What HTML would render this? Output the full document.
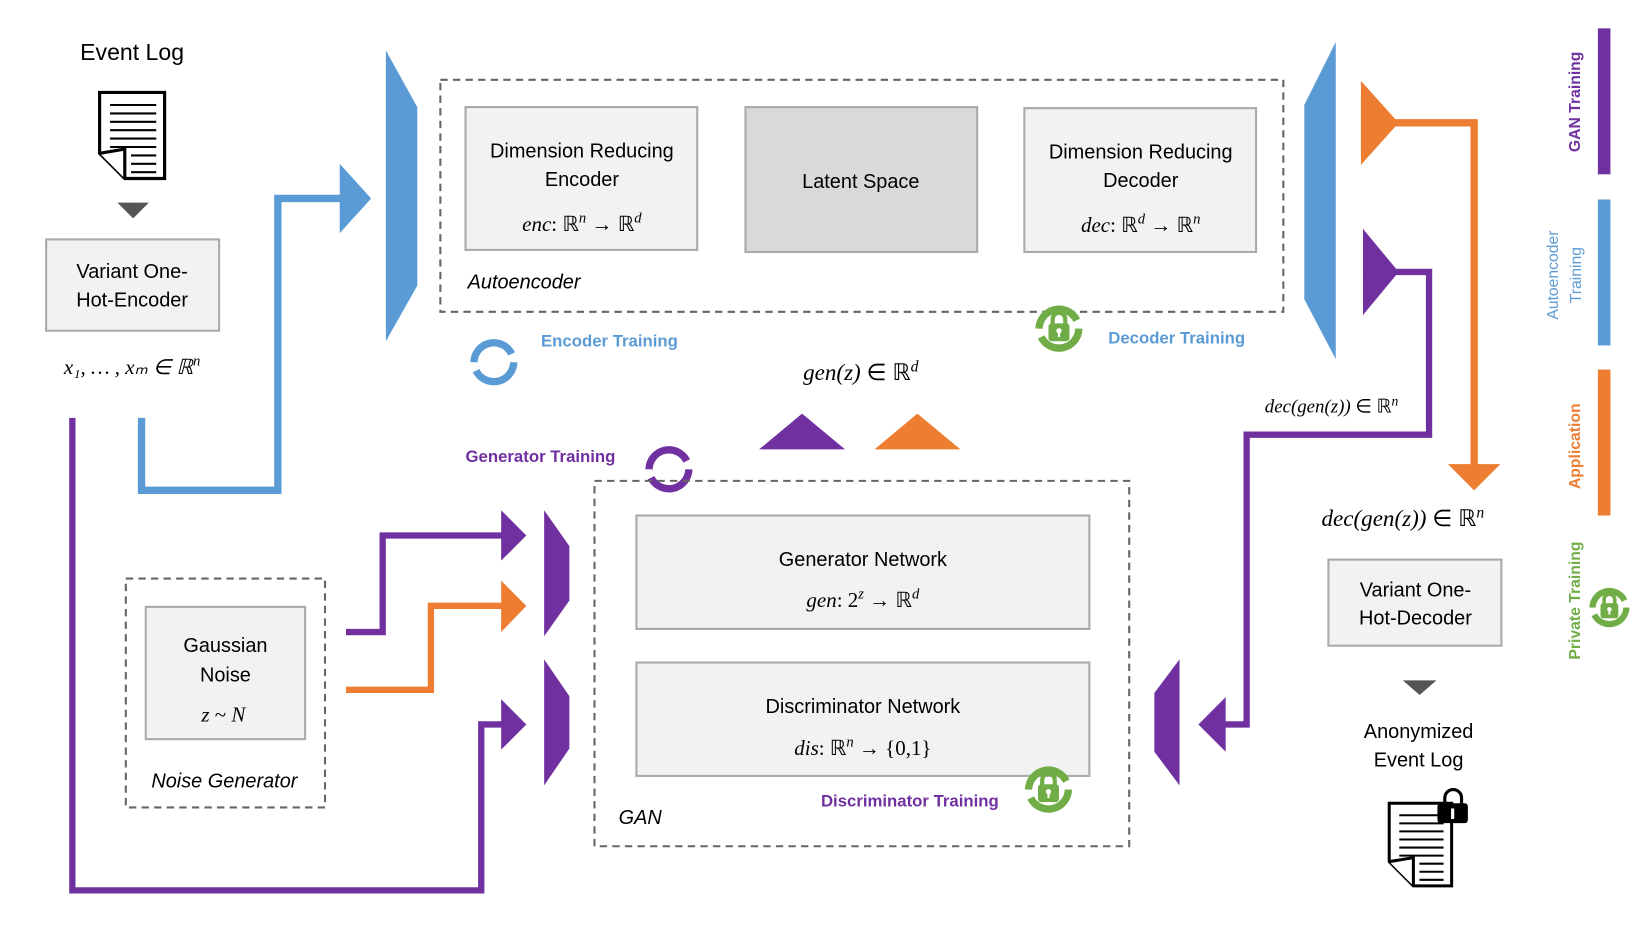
<!DOCTYPE html>
<html><head><meta charset="utf-8"><style>
html,body{margin:0;padding:0;background:#fff;}
svg{display:block;}
text{font-family:"Liberation Sans",sans-serif;}
.m{font-family:"Liberation Serif",serif;font-style:italic;}
</style></head><body>
<svg width="1644" height="925" viewBox="0 0 1568 881" preserveAspectRatio="none" xmlns="http://www.w3.org/2000/svg">
<defs>
<g id="cyc">
  <path d="M-19,2 A19,19 0 0 1 17,-6" fill="none" stroke-width="7"/>
  <path d="M19,2 A19,19 0 0 1 -17,10" fill="none" stroke-width="7"/>
</g>
<g id="doc">
  <path d="M0,0 H62 V82 H24 L0,58 Z" fill="#fff" stroke="#000" stroke-width="3"/>
  <path d="M0,58 L24,54 L24,82" fill="#fff" stroke="#000" stroke-width="3"/>
  <g stroke="#000" stroke-width="2">
    <line x1="10" y1="12" x2="54" y2="12"/><line x1="10" y1="20" x2="54" y2="20"/>
    <line x1="10" y1="28" x2="54" y2="28"/><line x1="10" y1="36" x2="54" y2="36"/>
    <line x1="10" y1="44" x2="54" y2="44"/><line x1="10" y1="52" x2="54" y2="52"/>
    <line x1="30" y1="60" x2="54" y2="60"/><line x1="30" y1="68" x2="54" y2="68"/>
    <line x1="30" y1="76" x2="54" y2="76"/>
  </g>
</g>
<g id="lock">
  <use href="#cyc" stroke="#70ad47"/>
  <path d="M-6,-2 V-7 A6,6 0 0 1 6,-7 V-2" fill="none" stroke="#70ad47" stroke-width="4"/>
  <rect x="-10" y="-3" width="20" height="17" rx="3" fill="#70ad47"/>
  <circle cx="0" cy="4" r="2.5" fill="#fff"/><rect x="-1" y="4" width="2" height="6" fill="#fff"/>
</g>
</defs>

<text x="126" y="57" font-size="22" text-anchor="middle">Event Log</text>
<use href="#doc" x="95" y="88"/>
<polygon points="112,193 142,193 127,208" fill="#555"/>
<rect x="44" y="228" width="165" height="87" fill="#f2f2f2" stroke="#aaa" stroke-width="2"/>
<text x="126" y="265" font-size="19" text-anchor="middle">Variant One-</text>
<text x="126" y="292" font-size="19" text-anchor="middle">Hot-Encoder</text>
<text x="126" y="356" font-size="20" text-anchor="middle" class="m">x₁, … , xₘ ∈ ℝ<tspan dy="-8" font-size="14">n</tspan></text>

<polyline points="135,398 135,467 265,467 265,189 328,189" fill="none" stroke="#5b9bd5" stroke-width="7"/>
<polygon points="324,156 354,189 324,222" fill="#5b9bd5"/>
<polygon points="368,48 398,102 398,272 368,325" fill="#5b9bd5"/>

<rect x="420" y="76" width="804" height="221" fill="none" stroke="#666" stroke-width="2" stroke-dasharray="7,5"/>
<rect x="444" y="102" width="221" height="136" fill="#f2f2f2" stroke="#aaa" stroke-width="2"/>
<text x="555" y="150" font-size="19" text-anchor="middle">Dimension Reducing</text>
<text x="555" y="177" font-size="19" text-anchor="middle">Encoder</text>
<text x="555" y="220" font-size="20" text-anchor="middle" class="m">enc<tspan font-style="normal">: ℝ</tspan><tspan dy="-8" font-size="14">n</tspan><tspan dy="8" font-style="normal"> → ℝ</tspan><tspan dy="-8" font-size="14">d</tspan></text>
<rect x="711" y="102" width="221" height="138" fill="#d9d9d9" stroke="#aaa" stroke-width="2"/>
<text x="821" y="179" font-size="19" text-anchor="middle">Latent Space</text>
<rect x="977" y="103" width="221" height="137" fill="#f2f2f2" stroke="#aaa" stroke-width="2"/>
<text x="1088" y="151" font-size="19" text-anchor="middle">Dimension Reducing</text>
<text x="1088" y="178" font-size="19" text-anchor="middle">Decoder</text>
<text x="1088" y="221" font-size="20" text-anchor="middle" class="m">dec<tspan font-style="normal">: ℝ</tspan><tspan dy="-8" font-size="14">d</tspan><tspan dy="8" font-style="normal"> → ℝ</tspan><tspan dy="-8" font-size="14">n</tspan></text>
<text x="446" y="275" font-size="19" font-style="italic">Autoencoder</text>

<use href="#cyc" x="471" y="343" stroke="#5b9bd5"/>
<text x="516" y="330" font-size="16" font-weight="bold" fill="#5b9bd5">Encoder Training</text>
<use href="#lock" x="1010" y="311"/>
<text x="1057" y="327" font-size="16" font-weight="bold" fill="#5b9bd5">Decoder Training</text>

<polygon points="1274,40 1244,100 1244,285 1274,342" fill="#5b9bd5"/>
<polyline points="1330,117 1406,117 1406,444" fill="none" stroke="#ed7d31" stroke-width="7"/>
<polygon points="1298,77 1334,117 1298,157" fill="#ed7d31"/>
<polygon points="1381,442 1431,442 1406,467" fill="#ed7d31"/>
<polyline points="1330,259 1363,259 1363,414 1189,414 1189,690 1165,690" fill="none" stroke="#7030a0" stroke-width="6"/>
<polygon points="1300,218 1334,259 1300,300" fill="#7030a0"/>
<polygon points="1169,664 1143,690 1169,716" fill="#7030a0"/>
<polygon points="1125,628 1101,660 1101,716 1125,748" fill="#7030a0"/>
<text x="1270" y="393" font-size="18" text-anchor="middle" class="m">dec(gen(z)) <tspan font-style="normal">∈ ℝ</tspan><tspan dy="-7" font-size="13">n</tspan></text>
<text x="1338" y="501" font-size="22" text-anchor="middle" class="m">dec(gen(z)) <tspan font-style="normal">∈ ℝ</tspan><tspan dy="-8" font-size="15">n</tspan></text>
<rect x="1267" y="533" width="165" height="82" fill="#f2f2f2" stroke="#aaa" stroke-width="2"/>
<text x="1350" y="568" font-size="19" text-anchor="middle">Variant One-</text>
<text x="1350" y="595" font-size="19" text-anchor="middle">Hot-Decoder</text>
<polygon points="1338,648 1370,648 1354,662" fill="#555"/>
<text x="1353" y="703" font-size="19" text-anchor="middle">Anonymized</text>
<text x="1353" y="730" font-size="19" text-anchor="middle">Event Log</text>
<use href="#doc" x="1325" y="765" transform="translate(1325,765) scale(0.96) translate(-1325,-765)"/>
<path d="M1378,768 V760 A8,8 0 0 1 1394,760 V768" fill="none" stroke="#000" stroke-width="3"/>
<rect x="1371" y="765" width="29" height="19" rx="3" fill="#000"/>
<rect x="1384" y="770" width="3" height="10" fill="#fff"/>

<rect x="1524" y="27" width="12" height="139" fill="#7030a0"/>
<rect x="1524" y="190" width="12" height="139" fill="#5b9bd5"/>
<rect x="1524" y="352" width="12" height="139" fill="#ed7d31"/>
<text transform="translate(1507,97) rotate(-90)" font-size="15" font-weight="bold" fill="#7030a0" text-anchor="middle">GAN Training</text>
<text transform="translate(1486,262) rotate(-90)" font-size="15" fill="#5b9bd5" text-anchor="middle">Autoencoder</text>
<text transform="translate(1508,262) rotate(-90)" font-size="15" fill="#5b9bd5" text-anchor="middle">Training</text>
<text transform="translate(1507,425) rotate(-90)" font-size="15" font-weight="bold" fill="#ed7d31" text-anchor="middle">Application</text>
<text transform="translate(1507,572) rotate(-90)" font-size="15" font-weight="bold" fill="#70ad47" text-anchor="middle">Private Training</text>
<g transform="translate(1535,577) scale(0.85)"><use href="#lock"/></g>

<text x="821" y="362" font-size="22" text-anchor="middle" class="m">gen(z) <tspan font-style="normal">∈ ℝ</tspan><tspan dy="-8" font-size="15">d</tspan></text>
<polygon points="724,428 806,428 765,394" fill="#7030a0"/>
<polygon points="834,428 916,428 875,394" fill="#ed7d31"/>
<text x="444" y="440" font-size="16" font-weight="bold" fill="#7030a0">Generator Training</text>
<use href="#cyc" x="638" y="445" stroke="#7030a0"/>

<rect x="567" y="458" width="510" height="348" fill="none" stroke="#666" stroke-width="2" stroke-dasharray="7,5"/>
<rect x="607" y="491" width="432" height="108" fill="#f2f2f2" stroke="#aaa" stroke-width="2"/>
<text x="823" y="539" font-size="19" text-anchor="middle">Generator Network</text>
<text x="823" y="578" font-size="20" text-anchor="middle" class="m">gen<tspan font-style="normal">: 2</tspan><tspan dy="-8" font-size="14">z</tspan><tspan dy="8" font-style="normal"> → ℝ</tspan><tspan dy="-8" font-size="14">d</tspan></text>
<rect x="607" y="631" width="432" height="108" fill="#f2f2f2" stroke="#aaa" stroke-width="2"/>
<text x="823" y="679" font-size="19" text-anchor="middle">Discriminator Network</text>
<text x="823" y="719" font-size="20" text-anchor="middle" class="m">dis<tspan font-style="normal">: ℝ</tspan><tspan dy="-8" font-size="14">n</tspan><tspan dy="8" font-style="normal"> → {0,1}</tspan></text>
<text x="783" y="768" font-size="16" font-weight="bold" fill="#7030a0">Discriminator Training</text>
<use href="#lock" x="1000" y="750"/>
<text x="590" y="785" font-size="19" font-style="italic">GAN</text>

<polygon points="519,486 543,520 543,572 519,606" fill="#7030a0"/>
<polygon points="519,628 543,663 543,713 519,748" fill="#7030a0"/>
<polyline points="330,602 365,602 365,510 482,510" fill="none" stroke="#7030a0" stroke-width="6"/>
<polygon points="478,486 502,510 478,534" fill="#7030a0"/>
<polyline points="330,657 411,657 411,577 482,577" fill="none" stroke="#ed7d31" stroke-width="6"/>
<polygon points="478,553 502,577 478,602" fill="#ed7d31"/>
<polyline points="69,398 69,848 459,848 459,690 482,690" fill="none" stroke="#7030a0" stroke-width="6"/>
<polygon points="478,666 502,690 478,714" fill="#7030a0"/>

<rect x="120" y="551" width="190" height="218" fill="none" stroke="#666" stroke-width="2" stroke-dasharray="7,5"/>
<rect x="139" y="578" width="152" height="126" fill="#f2f2f2" stroke="#aaa" stroke-width="2"/>
<text x="215" y="621" font-size="19" text-anchor="middle">Gaussian</text>
<text x="215" y="649" font-size="19" text-anchor="middle">Noise</text>
<text x="213" y="687" font-size="20" text-anchor="middle" class="m">z <tspan font-style="normal">~</tspan> N</text>
<text x="214" y="750" font-size="19" font-style="italic" text-anchor="middle">Noise Generator</text>
</svg>
</body></html>
